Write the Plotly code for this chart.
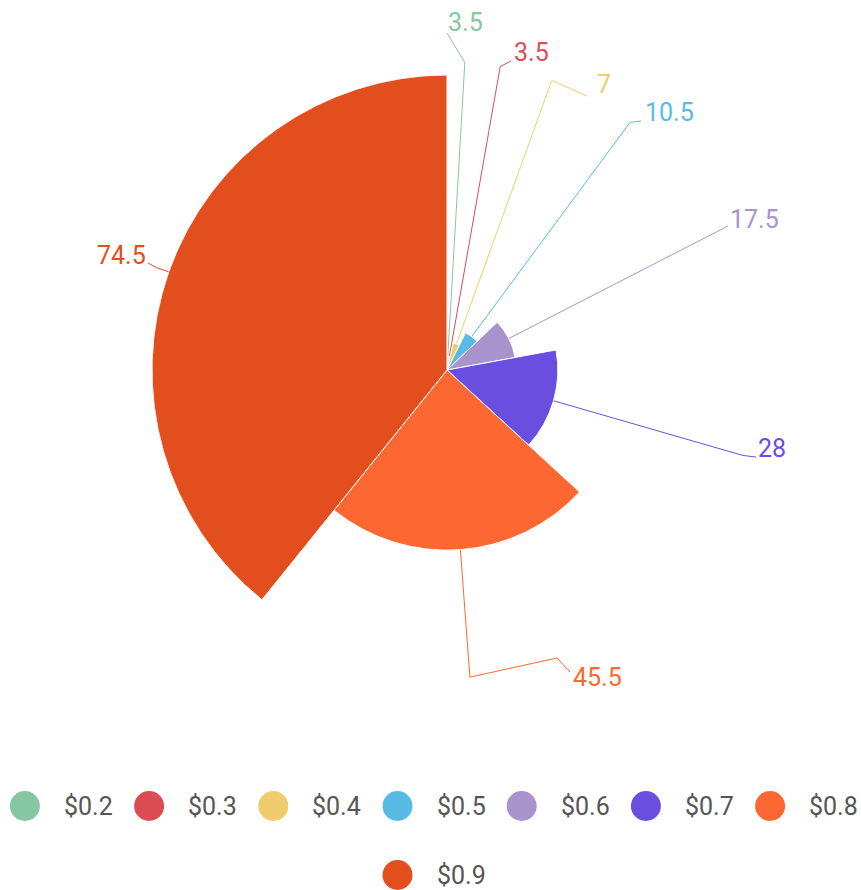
import numpy as np
import plotly.graph_objects as go

# ---- data ----
categories = ["$0.2", "$0.3", "$0.4", "$0.5", "$0.6", "$0.7", "$0.8", "$0.9"]
values = [3.5, 3.5, 7, 10.5, 17.5, 28, 45.5, 74.5]
colors = ["#86c6a2", "#dd4c55", "#f0cc6c", "#58bbe6", "#a993cd", "#6a4ee0", "#fd6832", "#e34e1f"]

# ---- layout constants (pixels) ----
W, H = 861, 890
CX, CY = 447, 370          # centre of the rose
R = 295                    # outer radius of the largest petal
ELBOW = R + 13             # where leader lines bend

# label text anchors after overlap adjustment: (x, y, side)
label_pos = [(446, 22, "left"), (512, 52, "left"), (595, 84, "left"), (643, 112, "left"),
             (728, 219, "left"), (756, 448, "left"), (571, 677, "left"), (148, 255, "right")]
# extra leader points after the elbow
leader_tails = [[(447, 33)], [(511, 61)], [(587, 96)], [(641, 121)],
                [(728, 226)], [(756, 457)], [(557, 658), (570, 672)], [(148, 263)]]

vals = np.array(values, dtype=float)
spans = 360.0 * vals / vals.sum()
ends = np.cumsum(spans)
mids = ends - spans / 2.0
rmax = vals.max()

fig = go.Figure()

fig.add_trace(go.Barpolar(
    r=values, theta=mids, width=spans,
    marker=dict(color=colors, line=dict(color="white", width=1)),
    opacity=1, showlegend=False, hoverinfo="skip",
))

# leader lines and value labels
annotations = []
for i, v in enumerate(values):
    a = np.radians(mids[i])
    rp = v / rmax * R
    sx, sy = CX + rp * np.sin(a), CY - rp * np.cos(a)
    ex, ey = CX + ELBOW * np.sin(a), CY - ELBOW * np.cos(a)
    pts = [(sx, sy), (ex, ey)] + leader_tails[i]
    fig.add_trace(go.Scatter(
        x=[p[0] for p in pts], y=[p[1] for p in pts], mode="lines",
        line=dict(color=colors[i], width=1), hoverinfo="skip", showlegend=False,
        xaxis="x", yaxis="y",
    ))
    lx, ly, side = label_pos[i]
    annotations.append(dict(
        x=lx, y=ly, xref="x", yref="y", text=f"{v:g}", showarrow=False,
        xanchor=side, yanchor="middle",
        font=dict(family="Roboto", size=25, color=colors[i]),
    ))

# legend drawn as circles with captions, wrapped into rows
per_row = 7
spacing = 124.2
item_w = 103
legend_cx = 435
row_y = [806, 875]
lx_list, ly_list = [], []
for i, name in enumerate(categories):
    row, col = divmod(i, per_row)
    n = min(per_row, len(categories) - row * per_row)
    total = n * spacing - (spacing - item_w)
    start = legend_cx - total / 2
    cx = start + 14 + col * spacing
    cy = row_y[row]
    lx_list.append(cx)
    ly_list.append(cy)
    annotations.append(dict(
        x=cx + 37, y=cy, xref="x", yref="y", text=name, showarrow=False,
        xanchor="left", yanchor="middle",
        font=dict(family="Roboto", size=25, color="#555555"),
    ))
fig.add_trace(go.Scatter(
    x=lx_list, y=ly_list, mode="markers",
    marker=dict(color=colors, size=30, line=dict(width=0)),
    hoverinfo="skip", showlegend=False,
))

fig.update_layout(
    width=W, height=H, autosize=False,
    margin=dict(l=0, r=0, t=0, b=0),
    paper_bgcolor="white", plot_bgcolor="rgba(0,0,0,0)",
    showlegend=False,
    polar=dict(
        domain=dict(x=[(CX - R) / W, (CX + R) / W], y=[(H - CY - R) / H, (H - CY + R) / H]),
        bgcolor="rgba(0,0,0,0)",
        bargap=0,
        radialaxis=dict(range=[0, rmax], visible=False, showgrid=False),
        angularaxis=dict(rotation=90, direction="clockwise", visible=False, showgrid=False),
    ),
    xaxis=dict(range=[0, W], domain=[0, 1], visible=False, fixedrange=True),
    yaxis=dict(range=[H, 0], domain=[0, 1], visible=False, fixedrange=True),
    annotations=annotations,
)

fig.write_html("out.html")
